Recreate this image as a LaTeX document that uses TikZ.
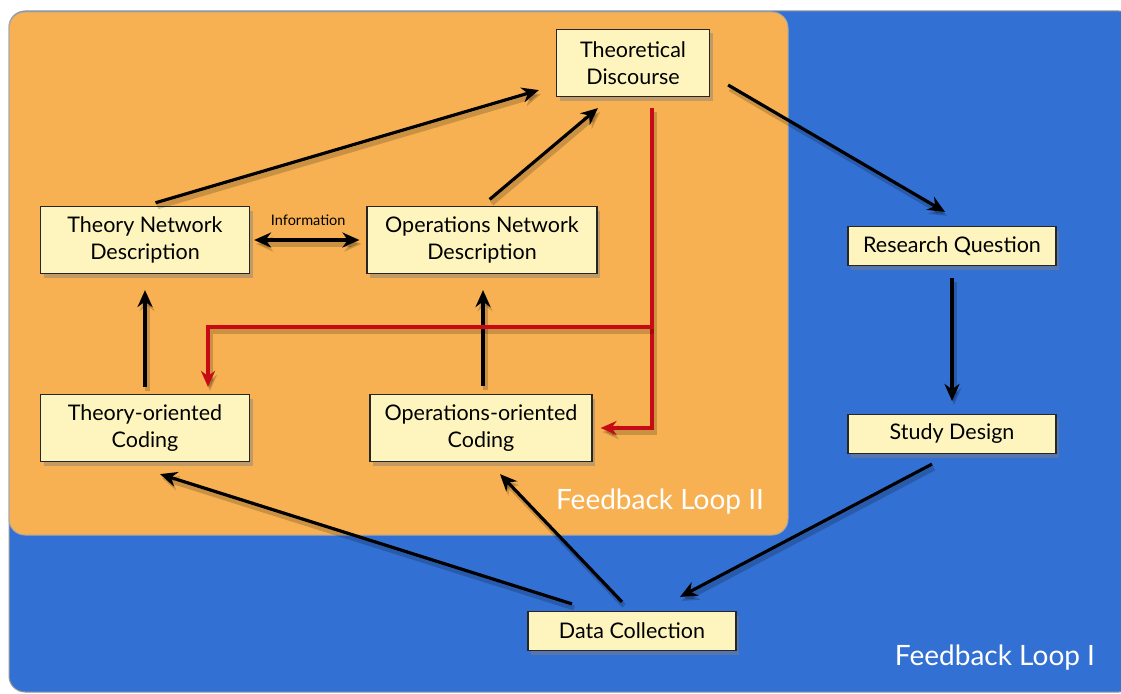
\documentclass[tikz,border=0pt]{standalone}
\usepackage{fontspec}
\setmainfont{Lato}
\usetikzlibrary{arrows.meta,shadows,calc}

\definecolor{loopblue}{RGB}{51,112,212}
\definecolor{looporange}{RGB}{247,177,82}
\definecolor{boxyellow}{RGB}{254,245,190}
\definecolor{feedred}{RGB}{200,10,20}

\tikzset{
  stage/.style={draw=black!85,line width=1.2pt,fill=boxyellow,
    align=center,inner sep=0pt,minimum height=67pt,
    font=\fontsize{21.5}{27}\selectfont,
    drop shadow={shadow xshift=3pt,shadow yshift=-4pt,opacity=0.45}},
  flatstage/.style={stage,minimum height=39pt},
  soft/.style={preaction={draw=black,opacity=0.18,line width=5pt,
    transform canvas={shift={(2pt,-4pt)}}}},
  flow/.style={soft,line width=3.2pt,-{Stealth[length=17pt,width=15pt]}},
  back/.style={soft,line width=3.2pt,draw=feedred,-{Stealth[length=16pt,width=14pt]}},
  looplabel/.style={text=white,font=\fontsize{28}{32}\selectfont}
}

\begin{document}
\begin{tikzpicture}[x=1pt,y=-1pt]
  \useasboundingbox (0,0) rectangle (1121,693);
  % the two loops
  \draw[fill=loopblue,draw=black!40,line width=1pt,rounded corners=16pt] (9,11) rectangle (1135,692);
  \draw[fill=looporange,draw=black!35,line width=1pt,rounded corners=16pt] (9,12) rectangle (788,535);
  \node[looplabel] (loopii) at (660,502) {Feedback Loop II};
  \node[looplabel] (loopi) at (995,658) {Feedback Loop I};

  % boxes
  \node[stage,minimum width=153pt](td) at (633,63) {Theoretical\\Discourse};
  \node[stage,minimum width=209pt](tnd) at (145,240) {Theory Network\\Description};
  \node[stage,minimum width=230pt](ond) at (482,240) {Operations Network\\Description};
  \node[stage,minimum width=209pt](toc) at (145,428) {Theory-oriented\\Coding};
  \node[stage,minimum width=222pt](ooc) at (481,428) {Operations-oriented\\Coding};
  \node[flatstage,minimum width=208pt](rq) at (952,246) {Research Question};
  \node[flatstage,minimum width=208pt](sd) at (952,434) {Study Design};
  \node[flatstage,minimum width=208pt](dc) at (632,631) {Data Collection};

  % black arrows
  \draw[flow,shorten <=11pt] (tnd.north) -- ([xshift=-17pt,yshift=7pt]td.south west);
  \draw[flow,shorten <=10pt] (ond.north) -- ([xshift=-35pt,yshift=-11pt]td.south);
  \draw[flow] ([xshift=18pt,yshift=-22pt]td.east) -- ([xshift=-7pt,yshift=14pt]rq.north);
  \draw[flow,shorten <=12pt,shorten >=13pt] (rq.south) -- (sd.north);
  \draw[flow] ([xshift=-20pt,yshift=-10pt]sd.south) -- ([xshift=48pt,yshift=14pt]dc.north);
  \draw[flow] ([xshift=-60pt,yshift=7pt]dc.north) -- ([xshift=15pt,yshift=-12pt]toc.south);
  \draw[flow] ([xshift=-10pt,yshift=9pt]dc.north) -- ([xshift=19pt,yshift=-12pt]ooc.south);
  \draw[flow,shorten <=7pt,shorten >=16pt] (toc.north) -- (tnd.south);
  \draw[flow,shorten <=8pt,shorten >=16pt] ([xshift=2pt]ooc.north) -- ([xshift=1pt]ond.south);
  \draw[soft,line width=3.2pt,{Stealth[length=17pt,width=15pt]}-{Stealth[length=17pt,width=15pt]},
    shorten <=4pt,shorten >=7pt] (tnd.east) -- (ond.west)
    node[midway,above=9pt,font=\fontsize{14.5}{16}\selectfont] (info) {Information};

  % red feedback
  \coordinate (split) at (652,327);
  \draw[back,shorten <=11pt,shorten >=8pt] (td.south -| split) |- (ooc.east);
  \draw[back,shorten >=7pt] (split) -| ([xshift=63pt]toc.north);
\end{tikzpicture}
\end{document}
